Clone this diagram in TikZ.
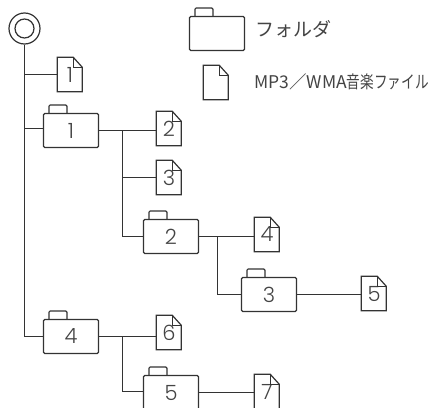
\documentclass[tikz,border=0pt]{standalone}
\usepackage{fontspec}
\newfontfamily\cjk{Noto Sans CJK JP}
\newfontfamily\digitfont{Poppins Light}
\definecolor{inkline}{HTML}{333333}
\definecolor{inktext}{HTML}{444444}
\tikzset{
  folder/.style = {draw=inkline, line width=1.2pt, rounded corners=1.3pt, minimum width=55pt, minimum height=34pt,
    inner sep=0pt, text=inktext, font=\digitfont\fontsize{21}{21}\selectfont},
  filenode/.style = {minimum width=25pt, minimum height=34pt, inner sep=0pt, text=inktext,
    font=\digitfont\fontsize{21}{21}\selectfont},
  tree/.style = {draw=inkline, line width=1.2pt},
  legend/.style = {text=inktext, inner sep=0pt, anchor=west}
}

\begin{document}
\begin{tikzpicture}[x=1pt, y=-1pt]
        \useasboundingbox (0,0) rectangle (438,407);
        % root
        \node [circle, tree, minimum size=31pt, inner sep=0pt] (root) at (24.5,28.5) {};
        \node [circle, tree, minimum size=19pt, inner sep=0pt] (rootin) at (24.5,28.5) {};
        % folders
        \node [folder] (fl) at (217,33.5) {};
        \node [folder] (d1) at (71,130.5) {1};
        \node [folder] (d2) at (171,236.5) {2};
        \node [folder] (d3) at (269,294.5) {3};
        \node [folder] (d4) at (71,336.5) {4};
        \node [folder] (d5) at (171,392.5) {5};
        % files
        \node [filenode] (ml) at (216,82.5) {};
        \node [filenode] (m1) at (70,74.5) {1};
        \node [filenode] (m2) at (169,128.5) {2};
        \node [filenode] (m3) at (169,177.5) {3};
        \node [filenode] (m4) at (267,234.5) {4};
        \node [filenode] (m5) at (374,293.5) {5};
        \node [filenode] (m6) at (169,332.5) {6};
        \node [filenode] (m7) at (267,391.5) {7};
        \foreach \n in {fl,d1,d2,d3,d4,d5}
          \draw [tree, rounded corners=1.3pt] ([xshift=6pt]\n.north west) -- ++(0,-8) -- ++(18,0) -- ++(0,8);
        \foreach \n in {ml,m1,m2,m3,m4,m5,m6,m7} {
          \draw [tree] (\n.north west) -- ++(16,0) -- ++(9,10) |- (\n.south west) -- cycle;
          \draw [tree] ([xshift=16pt]\n.north west) |- ([yshift=-10pt]\n.north east);
        }
        % legend text
        \node [legend, font=\cjk\fontsize{19}{19}\selectfont] (tf) at (255,29) {フォルダ};
        \node [legend, font=\cjk\fontsize{17.5}{18}\selectfont] (tm) at (254,82) {MP3／WMA\scalebox{.78}[1]{音楽ファイル}};
        % connectors
        \coordinate (j1) at (122.5,130.5);
        \coordinate (j2) at (217.5,236.5);
        \coordinate (j4) at (122.5,336.5);
        \draw [tree] (root.south) -- (24.5,336.5) -- (d4.west);
        \draw [tree] (24.5,74.5) -- (m1.west);
        \draw [tree] (24.5,128.5) -- (d1.west |- 0,128.5);
        \draw [tree] (d1.east) -- (m2.west |- d1.east);
        \draw [tree] (j1) -- (122.5,236.5) -- (d2.west);
        \draw [tree] (122.5,177.5) -- (m3.west);
        \draw [tree] (d2.east) -- (m4.west |- d2.east);
        \draw [tree] (j2) -- (217.5,294.5) -- (d3.west);
        \draw [tree] (d3.east) -- (m5.west |- d3.east);
        \draw [tree] (d4.east) -- (m6.west |- d4.east);
        \draw [tree] (j4) -- (122.5,391.5) -- (d5.west |- 0,391.5);
        \draw [tree] (d5.east) -- (m7.west |- d5.east);
\end{tikzpicture}
\end{document}
